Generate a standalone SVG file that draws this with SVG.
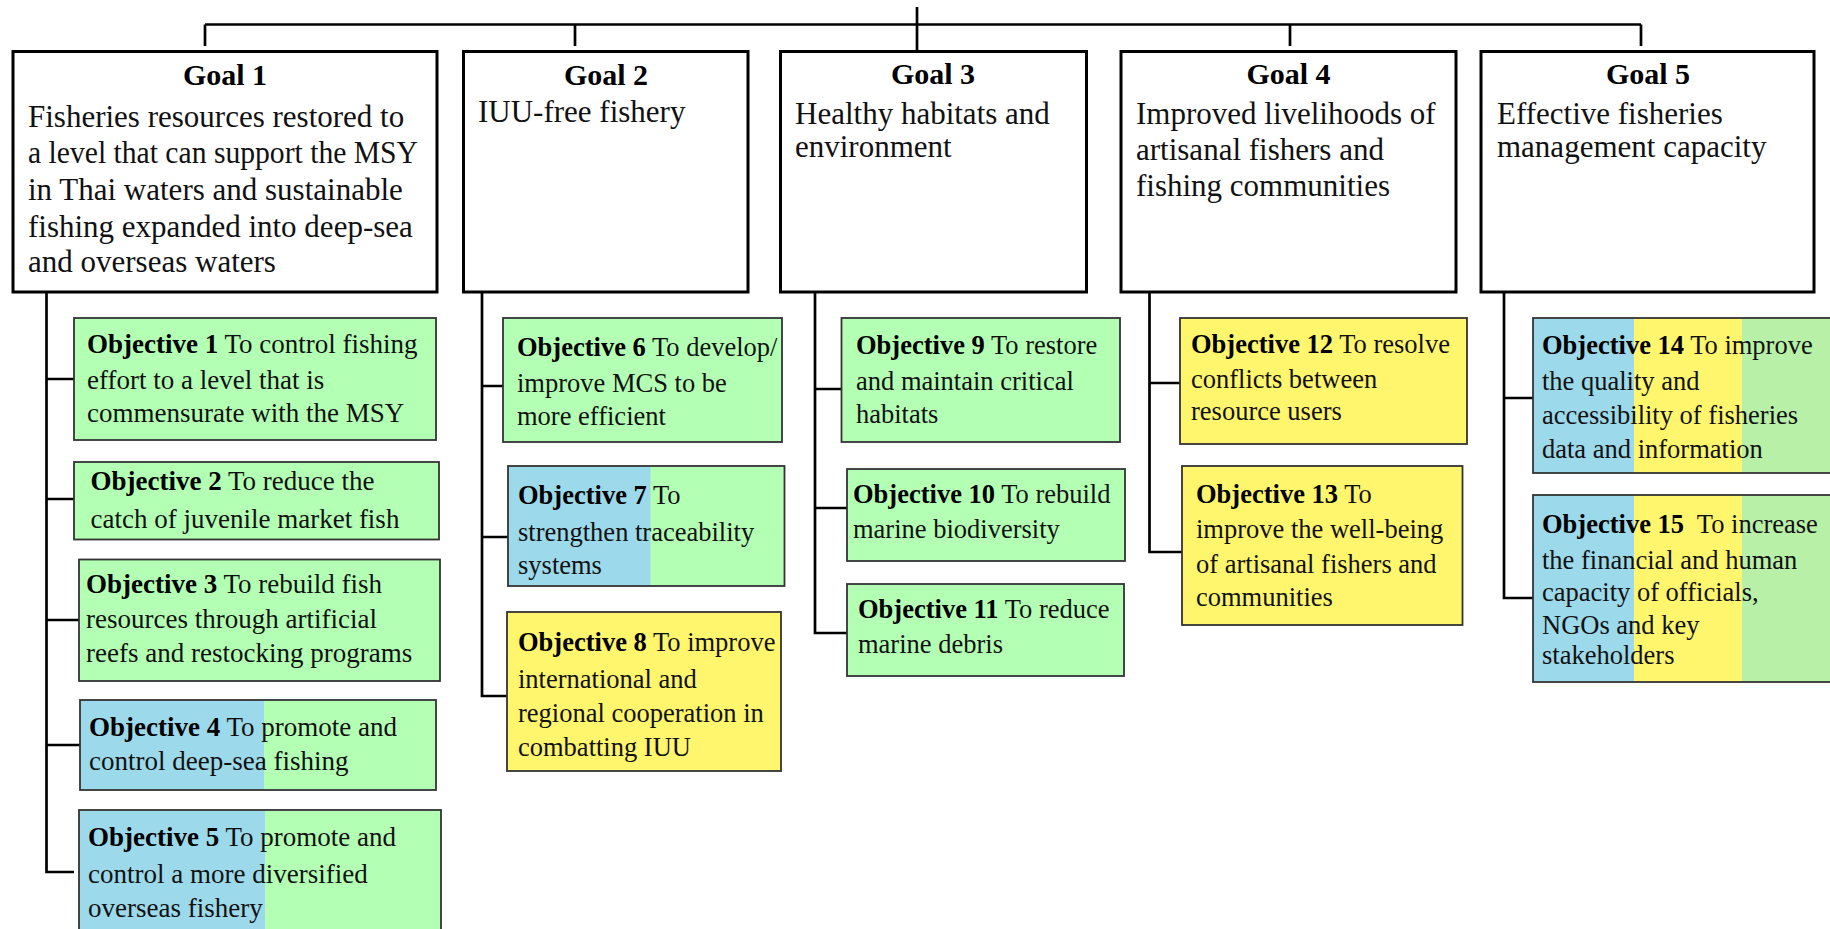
<svg xmlns="http://www.w3.org/2000/svg" width="1830" height="929" viewBox="0 0 1830 929">
<style>
.bg{fill:#ffffff}
.goal{fill:#ffffff;stroke:#000;stroke-width:3}
.frame{fill:none;stroke:#333;stroke-width:1.8}
.gr{fill:#b3ffb3}
.bl{fill:#9cd9ea}
.ye{fill:#fff66e}
.gr2{fill:#b8f0a8}
.gt{font-family:"Liberation Serif","Times New Roman",serif;font-size:30px;font-weight:bold;text-anchor:middle;fill:#000}
.gb{font-family:"Liberation Serif","Times New Roman",serif;font-size:31px;fill:#111}
.ot{font-family:"Liberation Serif","Times New Roman",serif;font-size:26.5px;fill:#111}
.ot1{font-family:"Liberation Serif","Times New Roman",serif;font-size:27px;fill:#111}
.b{font-weight:bold;fill:#000}
.conn{stroke:#000;stroke-width:2.7;fill:none}
</style>
<rect class="bg" x="0" y="0" width="1830" height="929"/>

<g id="connectors">
<path class="conn" d="M205,24.5 H1641"/>
<path class="conn" d="M917,7 V51"/>
<path class="conn" d="M205,24.5 V46 M575,24.5 V46 M1290,24.5 V46 M1641,24.5 V46"/>
<path class="conn" d="M46.5,292 V872 H74 M46.5,379 H74 M46.5,499 H74 M46.5,620 H79 M46.5,745 H80"/>
<path class="conn" d="M482,292 V696 H507 M482,386 H503 M482,537 H508"/>
<path class="conn" d="M815,292 V633 H847 M815,389 H841.5 M815,508 H847"/>
<path class="conn" d="M1149.5,292 V552 H1182 M1149.5,383 H1180"/>
<path class="conn" d="M1504,292 V598 H1533 M1504,398 H1533"/>
</g>

<g id="goal1">
<rect class="goal" x="13" y="51.5" width="424" height="240.5"/>
<text class="gt" x="225" y="84.5">Goal 1</text>
<text class="gb" x="28" y="126.5">Fisheries resources restored to</text>
<text class="gb" x="28" y="163" textLength="390" lengthAdjust="spacingAndGlyphs">a level that can support the MSY</text>
<text class="gb" x="28" y="199.5">in Thai waters and sustainable</text>
<text class="gb" x="28" y="236.5">fishing expanded into deep-sea</text>
<text class="gb" x="28" y="272">and overseas waters</text>
</g>

<g id="goal2">
<rect class="goal" x="463.5" y="51.5" width="284.5" height="240.5"/>
<text class="gt" x="606" y="84.5">Goal 2</text>
<text class="gb" x="478" y="122">IUU-free fishery</text>
</g>

<g id="goal3">
<rect class="goal" x="780.5" y="51.5" width="306" height="240.5"/>
<text class="gt" x="933" y="84">Goal 3</text>
<text class="gb" x="795" y="123.5">Healthy habitats and</text>
<text class="gb" x="795" y="156.5">environment</text>
</g>

<g id="goal4">
<rect class="goal" x="1121" y="51.5" width="335" height="240.5"/>
<text class="gt" x="1288.5" y="84">Goal 4</text>
<text class="gb" x="1136" y="123.5">Improved livelihoods of</text>
<text class="gb" x="1136" y="160">artisanal fishers and</text>
<text class="gb" x="1136" y="195.5">fishing communities</text>
</g>

<g id="goal5">
<rect class="goal" x="1481" y="51.5" width="333" height="240.5"/>
<text class="gt" x="1648" y="84">Goal 5</text>
<text class="gb" x="1497" y="123.5">Effective fisheries</text>
<text class="gb" x="1497" y="156.5">management capacity</text>
</g>

<g id="objective1">
<rect class="gr" x="74" y="318" width="362" height="122"/>
<rect class="frame" x="74" y="318" width="362" height="122"/>
<text class="ot1" x="87" y="353"><tspan class="b">Objective 1</tspan> To control fishing</text>
<text class="ot1" x="87" y="389">effort to a level that is</text>
<text class="ot1" x="87" y="422">commensurate with the MSY</text>
</g>

<g id="objective2">
<rect class="gr" x="74" y="462" width="365" height="77.5"/>
<rect class="frame" x="74" y="462" width="365" height="77.5"/>
<text class="ot1" x="90.5" y="490"><tspan class="b">Objective 2</tspan> To reduce the</text>
<text class="ot1" x="90.5" y="527.5">catch of juvenile market fish</text>
</g>

<g id="objective3">
<rect class="gr" x="79" y="559.5" width="361" height="121.5"/>
<rect class="frame" x="79" y="559.5" width="361" height="121.5"/>
<text class="ot1" x="86" y="592.5"><tspan class="b">Objective 3</tspan> To rebuild fish</text>
<text class="ot1" x="86" y="627.5">resources through artificial</text>
<text class="ot1" x="86" y="661.5">reefs and restocking programs</text>
</g>

<g id="objective4">
<rect class="gr" x="80" y="700" width="356" height="90"/>
<rect class="bl" x="80" y="700" width="184" height="90"/>
<rect class="frame" x="80" y="700" width="356" height="90"/>
<text class="ot1" x="89" y="735.5"><tspan class="b">Objective 4</tspan> To promote and</text>
<text class="ot1" x="89" y="769.5">control deep-sea fishing</text>
</g>

<g id="objective5">
<rect class="gr" x="79" y="810" width="362" height="140"/>
<rect class="bl" x="79" y="810" width="186" height="140"/>
<rect class="frame" x="79" y="810" width="362" height="140"/>
<text class="ot1" x="88" y="846"><tspan class="b">Objective 5</tspan> To promote and</text>
<text class="ot1" x="88" y="882.5">control a more diversified</text>
<text class="ot1" x="88" y="917">overseas fishery</text>
</g>

<g id="objective6">
<rect class="gr" x="503" y="318" width="279" height="124"/>
<rect class="frame" x="503" y="318" width="279" height="124"/>
<text class="ot" x="517" y="356"><tspan class="b">Objective 6</tspan> To develop/</text>
<text class="ot" x="517" y="391.5">improve MCS to be</text>
<text class="ot" x="517" y="424.5">more efficient</text>
</g>

<g id="objective7">
<rect class="gr" x="508" y="466" width="276.5" height="120"/>
<rect class="bl" x="508" y="466" width="142.5" height="120"/>
<rect class="frame" x="508" y="466" width="276.5" height="120"/>
<text class="ot" x="518" y="504"><tspan class="b">Objective 7</tspan> To</text>
<text class="ot" x="518" y="540.5">strengthen traceability</text>
<text class="ot" x="518" y="574">systems</text>
</g>

<g id="objective8">
<rect class="ye" x="507" y="612" width="274" height="159"/>
<rect class="frame" x="507" y="612" width="274" height="159"/>
<text class="ot" x="518" y="651"><tspan class="b">Objective 8</tspan> To improve</text>
<text class="ot" x="518" y="687.5">international and</text>
<text class="ot" x="518" y="722">regional cooperation in</text>
<text class="ot" x="518" y="755.5">combatting IUU</text>
</g>

<g id="objective9">
<rect class="gr" x="841.5" y="318" width="278.5" height="124"/>
<rect class="frame" x="841.5" y="318" width="278.5" height="124"/>
<text class="ot" x="856" y="354"><tspan class="b">Objective 9</tspan> To restore</text>
<text class="ot" x="856" y="389.5">and maintain critical</text>
<text class="ot" x="856" y="423">habitats</text>
</g>

<g id="objective10">
<rect class="gr" x="847" y="469" width="278" height="92"/>
<rect class="frame" x="847" y="469" width="278" height="92"/>
<text class="ot" x="853" y="503"><tspan class="b">Objective 10</tspan> To rebuild</text>
<text class="ot" x="853" y="538">marine biodiversity</text>
</g>

<g id="objective11">
<rect class="gr" x="847" y="584" width="277" height="92"/>
<rect class="frame" x="847" y="584" width="277" height="92"/>
<text class="ot" x="858" y="617.5"><tspan class="b">Objective 11</tspan> To reduce</text>
<text class="ot" x="858" y="652.5">marine debris</text>
</g>

<g id="objective12">
<rect class="ye" x="1180" y="318" width="287" height="126"/>
<rect class="frame" x="1180" y="318" width="287" height="126"/>
<text class="ot" x="1191" y="352.5"><tspan class="b">Objective 12</tspan> To resolve</text>
<text class="ot" x="1191" y="387.5">conflicts between</text>
<text class="ot" x="1191" y="420">resource users</text>
</g>

<g id="objective13">
<rect class="ye" x="1182" y="466" width="280.5" height="159"/>
<rect class="frame" x="1182" y="466" width="280.5" height="159"/>
<text class="ot" x="1196" y="503"><tspan class="b">Objective 13</tspan> To</text>
<text class="ot" x="1196" y="538">improve the well-being</text>
<text class="ot" x="1196" y="572.5">of artisanal fishers and</text>
<text class="ot" x="1196" y="606">communities</text>
</g>

<g id="objective14">
<rect class="gr2" x="1533" y="318" width="310" height="155"/>
<rect class="ye" x="1533" y="318" width="209" height="155"/>
<rect class="bl" x="1533" y="318" width="101" height="155"/>
<rect class="frame" x="1533" y="318" width="310" height="155"/>
<text class="ot" x="1542" y="353.5"><tspan class="b">Objective 14</tspan> To improve</text>
<text class="ot" x="1542" y="389.5">the quality and</text>
<text class="ot" x="1542" y="424">accessibility of fisheries</text>
<text class="ot" x="1542" y="458">data and information</text>
</g>

<g id="objective15">
<rect class="gr2" x="1533" y="495" width="310" height="187"/>
<rect class="ye" x="1533" y="495" width="209" height="187"/>
<rect class="bl" x="1533" y="495" width="101" height="187"/>
<rect class="frame" x="1533" y="495" width="310" height="187"/>
<text class="ot" x="1542" y="533" xml:space="preserve"><tspan class="b">Objective 15</tspan>  To increase</text>
<text class="ot" x="1542" y="568.5">the financial and human</text>
<text class="ot" x="1542" y="600.5">capacity of officials,</text>
<text class="ot" x="1542" y="634">NGOs and key</text>
<text class="ot" x="1542" y="663.5">stakeholders</text>
</g>
</svg>
